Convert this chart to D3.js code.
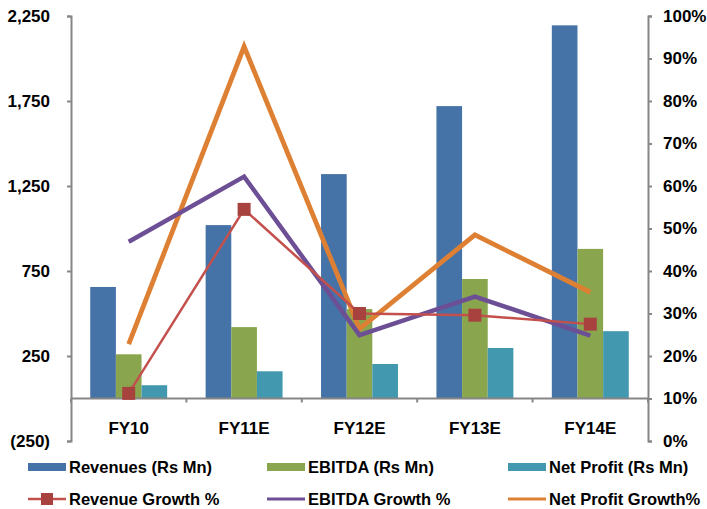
<!DOCTYPE html>
<meta charset="utf-8">
<head>
    <script type="text/javascript" src="https://cdn.jsdelivr.net/npm/d3@7"></script>
    <style>
        body { margin: 0; background: #fff; }
        text { font-family: "Liberation Sans", Arial, sans-serif; font-weight: bold; fill: #000; }
    </style>
    <title></title>
</head>
<body>
<script>
    // data
    var years = ["FY10", "FY11E", "FY12E", "FY13E", "FY14E"];
    var revenues = [656, 1020, 1320, 1720, 2195];
    var ebitda = [260, 420, 526, 703, 880];
    var netProfit = [78, 160, 203, 297, 396];
    var revGrowth = [11.2, 54.5, 30.0, 29.6, 27.5];
    var ebitdaGrowth = [46.9, 62.2, 24.9, 34.0, 24.8];
    var npGrowth = [22.8, 92.8, 26.4, 48.5, 35.0];
    var leftTicks = [-250, 250, 750, 1250, 1750, 2250];
    var rightTicks = [0, 10, 20, 30, 40, 50, 60, 70, 80, 90, 100];

    var width = 707, height = 509;
    var margin = {top: 16, left: 71, right: 59, bottom: 68};
    var plotRight = width - margin.right, plotBottom = height - margin.bottom;

    var svg = d3.select("body").append("svg")
        .attr("width", width)
        .attr("height", height);

    var x = d3.scaleBand().domain(years).range([margin.left, plotRight]);
    var bw = x.bandwidth() / 4.5;
    var yL = d3.scaleLinear().domain([-250, 2250]).range([plotBottom, margin.top]);
    var yR = d3.scaleLinear().domain([0, 100]).range([plotBottom, margin.top]);

    var barSeries = [
        {name: "Revenues (Rs Mn)", values: revenues, color: "#4572A7"},
        {name: "EBITDA (Rs Mn)", values: ebitda, color: "#89A54E"},
        {name: "Net Profit (Rs Mn)", values: netProfit, color: "#4198AF"}
    ];
    var lineSeries = [
        {name: "Net Profit Growth%", values: npGrowth, color: "#DE8033", w: 4.8},
        {name: "EBITDA Growth %", values: ebitdaGrowth, color: "#6C4F94", w: 4.5},
        {name: "Revenue Growth %", values: revGrowth, color: "#C4504D", w: 2.5, marker: "#A8423F"}
    ];

    // bars
    barSeries.forEach(function(s, i) {
        svg.append("g").selectAll("rect")
            .data(s.values)
            .enter().append("rect")
            .attr("x", function(d, j) { return x(years[j]) + bw * (0.75 + i); })
            .attr("width", bw)
            .attr("y", function(d) { return yL(d); })
            .attr("height", function(d) { return yL(0) - yL(d); })
            .attr("fill", s.color);
    });

    // axes
    var axisColor = "#868686";
    var leftAxis = svg.append("g")
        .attr("transform", "translate(" + margin.left + ",0)")
        .call(d3.axisLeft(yL).tickValues(leftTicks).tickSize(4).tickPadding(17)
            .tickFormat(function(d) { return d < 0 ? "(" + d3.format(",")(-d) + ")" : d3.format(",")(d); }));
    var rightAxis = svg.append("g")
        .attr("transform", "translate(" + plotRight + ",0)")
        .call(d3.axisRight(yR).tickValues(rightTicks).tickSize(4).tickPadding(11)
            .tickFormat(function(d) { return d + "%"; }));
    var catAxis = svg.append("g")
        .attr("transform", "translate(0," + yL(0) + ")")
        .call(d3.axisBottom(x).tickSize(4).tickPadding(19));
    catAxis.selectAll(".tick line").attr("transform", "translate(" + (-x.bandwidth() / 2) + ",0)");
    catAxis.append("line").attr("x1", plotRight).attr("x2", plotRight).attr("y1", 0).attr("y2", 4);

    [leftAxis, rightAxis, catAxis].forEach(function(a) {
        a.selectAll(".domain").attr("stroke", axisColor).attr("stroke-width", 2);
        a.selectAll("line").attr("stroke", axisColor).attr("stroke-width", 2);
        a.selectAll("text").attr("font-size", 17).attr("font-family", null).attr("fill", "#000");
    });
    catAxis.select(".domain").attr("d", "M" + margin.left + ",0H" + plotRight);

    // growth lines
    var line = d3.line()
        .x(function(d, j) { return x(years[j]) + x.bandwidth() / 2; })
        .y(function(d) { return yR(d); });

    lineSeries.forEach(function(s) {
        svg.append("path")
            .datum(s.values)
            .attr("d", line)
            .attr("fill", "none")
            .attr("stroke", s.color)
            .attr("stroke-width", s.w)
            .attr("stroke-linejoin", "miter");
        if (s.marker) {
            svg.append("g").selectAll("rect")
                .data(s.values)
                .enter().append("rect")
                .attr("x", function(d, j) { return x(years[j]) + x.bandwidth() / 2 - 6.5; })
                .attr("y", function(d) { return yR(d) - 6.5; })
                .attr("width", 13).attr("height", 13)
                .attr("fill", s.marker);
        }
    });

    // legend
    var legX = [28, 267, 508];
    var legend = svg.append("g").attr("id", "legend");
    barSeries.forEach(function(s, i) {
        var g = legend.append("g").attr("transform", "translate(" + legX[i] + ",467)");
        g.append("rect").attr("x", 0).attr("y", -4).attr("width", 38).attr("height", 8).attr("fill", s.color);
        g.append("text").attr("x", 41).attr("dy", "0.36em").attr("font-size", 16.5).text(s.name);
    });
    var lineOrder = [lineSeries[2], lineSeries[1], lineSeries[0]];
    lineOrder.forEach(function(s, i) {
        var g = legend.append("g").attr("transform", "translate(" + legX[i] + ",499)");
        g.append("line").attr("x1", 0).attr("x2", 38).attr("stroke", s.color).attr("stroke-width", s.marker ? 2.5 : 3);
        if (s.marker) {
            g.append("rect").attr("x", 13).attr("y", -6).attr("width", 12).attr("height", 12).attr("fill", s.marker);
        }
        g.append("text").attr("x", 41).attr("dy", "0.36em").attr("font-size", 16.5).text(s.name);
    });
</script>
</body>
</html>
